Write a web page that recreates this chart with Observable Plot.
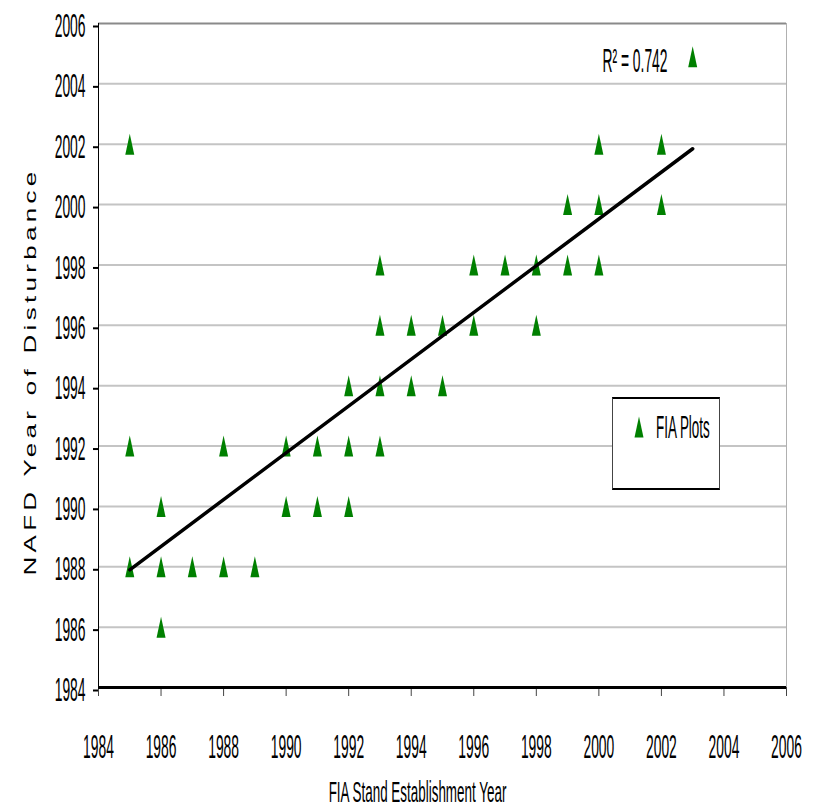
<!DOCTYPE html>
<html>
<head>
<meta charset="utf-8">
<script src="https://cdn.jsdelivr.net/npm/d3@7"></script>
<script src="https://cdn.jsdelivr.net/npm/@observablehq/plot@0.6"></script>
<style>
  html, body { margin: 0; padding: 0; background: #fff; overflow: hidden; }
  #chart { position: relative; width: 817px; height: 808px; }
  #chart svg { display: block; }
  .legend {
    position: absolute; left: 612px; top: 397px; width: 108px; height: 93px;
    box-sizing: border-box; background: #fff;
    border-style: solid; border-width: 2px 1px; border-color: #000 #444;
  }
  .legend svg { position: absolute; left: 21px; top: 17px; }
  .legend span {
    position: absolute; left: 43px; top: 12px; white-space: nowrap;
    font-family: "Liberation Sans", Arial, sans-serif; font-size: 32px; line-height: 32px;
    color: #000; transform: scaleX(0.42); transform-origin: 0 0;
  }
</style>
</head>
<body>
<div id="chart"></div>
<script>
// One entry per FIA plot: stand establishment year and NAFD disturbance year
const establishYear = [
  1985, 1985, 1985,
  1986, 1986, 1986,
  1987,
  1988, 1988,
  1989,
  1990, 1990,
  1991, 1991,
  1992, 1992, 1992,
  1993, 1993, 1993, 1993,
  1994, 1994,
  1995, 1995,
  1996, 1996,
  1997,
  1998, 1998,
  1999, 1999,
  2000, 2000, 2000,
  2002, 2002,
  2003
];
const disturbYear = [
  2002, 1992, 1988,
  1990, 1988, 1986,
  1988,
  1992, 1988,
  1988,
  1992, 1990,
  1992, 1990,
  1994, 1992, 1990,
  1998, 1996, 1994, 1992,
  1996, 1994,
  1996, 1994,
  1998, 1996,
  1998,
  1998, 1996,
  2000, 1998,
  2002, 2000, 1998,
  2002, 2000,
  2004.9
];

// Fitted linear trend, evaluated at the first and last establishment year
const fitYears = [1985, 2003];
const fitValues = [1987.9, 2001.85];
const r2Label = "R² = 0.742";

const yearTicks = d3.range(1984, 2007, 2);
const gridYears = yearTicks.filter(d => d > 1984 && d < 2006);

const xTitle = "FIA Stand Establishment Year";
const yTitle = "NAFD Year of Disturbance";
const seriesName = "FIA Plots";

const points = establishYear.map((x, i) => ({x, y: disturbYear[i]}));
const fit = fitYears.map((x, i) => ({x, y: fitValues[i]}));

// Tall, narrow marker triangle
const tallTriangle = {
  draw(context) {
    context.moveTo(0, -10.5);
    context.lineTo(4.5, 10.5);
    context.lineTo(-4.5, 10.5);
    context.closePath();
  }
};

const font = "'Liberation Sans', Arial, sans-serif";

const chart = Plot.plot({
  width: 817,
  height: 808,
  marginLeft: 98,
  marginRight: 31,
  marginTop: 23,
  marginBottom: 121,
  x: {domain: [1984, 2006]},
  y: {domain: [1984, 2006]},
  style: {fontFamily: font, fontSize: "33px", color: "#000", background: "#fff", overflow: "visible"},
  marks: [
    Plot.ruleY(gridYears, {stroke: "#c4c4c4", strokeWidth: 2}),
    Plot.ruleY([2006], {stroke: "#8a8a8a", strokeWidth: 2}),
    Plot.ruleX([2006], {stroke: "#b0b0b0", strokeWidth: 1}),
    Plot.axisY({ticks: yearTicks, tickFormat: d => String(d), tickSize: 5, tickPadding: 8,
      strokeWidth: 2, stroke: "#000", fill: "#000", dy: 3, label: null, fontSize: 33}),
    Plot.axisX({ticks: yearTicks, tickFormat: d => String(d), tickSize: 9, tickPadding: 38,
      strokeWidth: 1, stroke: "#444", fill: "#000", label: null, fontSize: 33}),
    Plot.ruleX([1984], {stroke: "#000", strokeWidth: 1}),
    Plot.ruleY([1984], {stroke: "#000", strokeWidth: 3}),
    Plot.dot(points, {x: "x", y: "y", symbol: tallTriangle, r: 6, fill: "#008000", stroke: null}),
    Plot.line(fit, {x: "x", y: "y", stroke: "#000", strokeWidth: 3.5}),
    Plot.text([r2Label], {frameAnchor: "top-right", textAnchor: "end", lineAnchor: "top",
      dx: -119, dy: 25, fontSize: 33, fill: "#000"}),
    Plot.text([xTitle], {frameAnchor: "bottom", textAnchor: "middle", lineAnchor: "bottom",
      dx: -25, dy: 114, fontSize: 30, fill: "#000"}),
    Plot.text([yTitle], {frameAnchor: "left", textAnchor: "middle", lineAnchor: "bottom",
      rotate: -90, dx: -63, dy: 16, fontSize: 26, fill: "#000"})
  ]
});

// Narrow type: compress glyphs horizontally about each label's anchor
function squeeze(el, k) {
  const x = +el.getAttribute("x") || 0;
  const t = el.getAttribute("transform") || "";
  el.setAttribute("transform", `${t} translate(${x},0) scale(${k},1) translate(${-x},0)`);
}
const svg = d3.select(chart);
svg.selectAll("text").each(function() {
  const txt = this.textContent;
  if (txt === yTitle) {
    // rotated title: spaced letters, flattened across the page
    this.setAttribute("letter-spacing", "4.3");
    this.style.letterSpacing = "4.3px";
    const t = this.getAttribute("transform") || "";
    this.setAttribute("transform", `${t} scale(1,0.62)`);
  } else {
    squeeze(this, txt === xTitle ? 0.448 : 0.42);
  }
});

const root = document.getElementById("chart");
root.appendChild(chart);

// Legend box
const legend = d3.select(root).append("div").attr("class", "legend");
const sw = legend.append("svg").attr("width", 10).attr("height", 22);
sw.append("path")
  .attr("d", d3.symbol(tallTriangle)())
  .attr("transform", "translate(5,11)")
  .attr("fill", "#008000");
legend.append("span").text(seriesName);
</script>
</body>
</html>
